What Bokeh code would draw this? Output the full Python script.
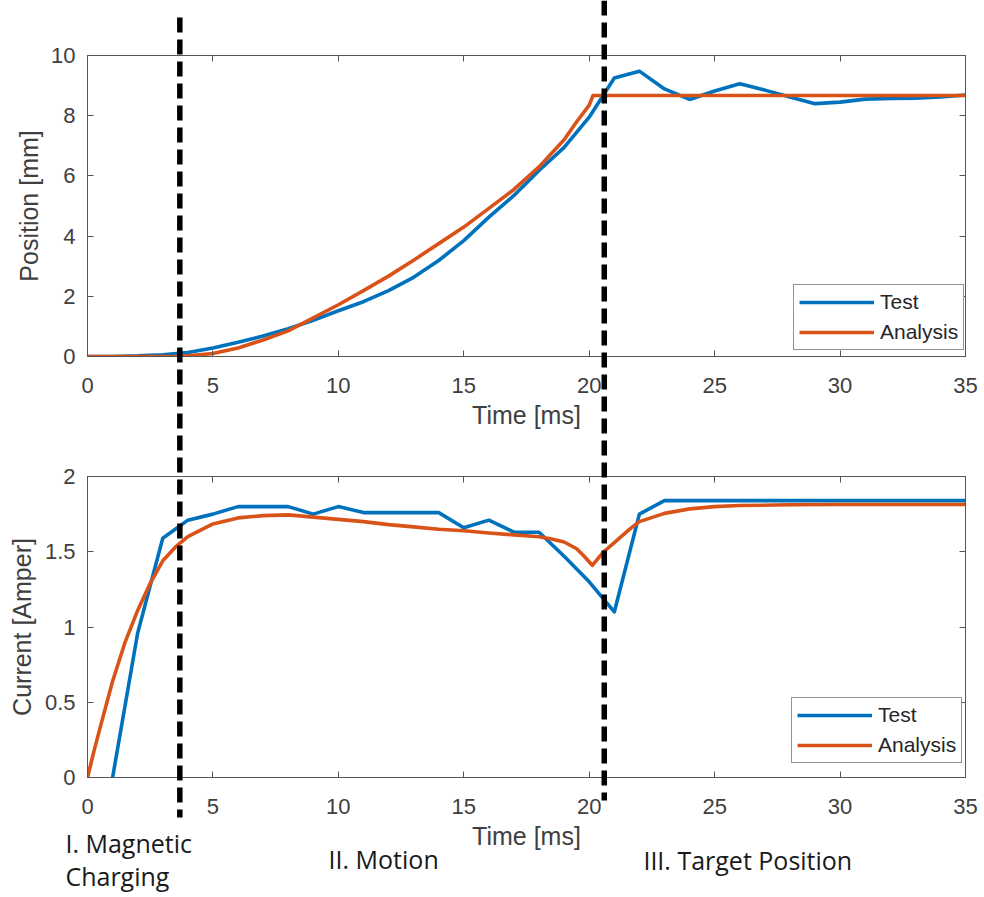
from bokeh.plotting import figure
from bokeh.models import Range1d, LinearAxis, FixedTicker, Legend, LegendItem
from bokeh.layouts import column
from bokeh.embed import file_html
from bokeh.resources import INLINE
from bokeh.core.properties import value

# ---------------- data ----------------
x_ticks = [0, 5, 10, 15, 20, 25, 30, 35]
x_tick_labels = ["0", "5", "10", "15", "20", "25", "30", "35"]
pos_ticks = [0, 2, 4, 6, 8, 10]
pos_tick_labels = ["0", "2", "4", "6", "8", "10"]
cur_ticks = [0, 0.5, 1, 1.5, 2]
cur_tick_labels = ["0", "0.5", "1", "1.5", "2"]

# Position [mm] - Test
pos_test_t = list(range(0, 36))
pos_test = [0.0, 0.0, 0.02, 0.06, 0.13, 0.28, 0.47, 0.68, 0.92, 1.2, 1.52, 1.82, 2.19,
            2.63, 3.19, 3.85, 4.63, 5.35, 6.18, 6.95, 7.95, 9.25, 9.48, 8.89, 8.54,
            8.82, 9.06, 8.85, 8.62, 8.40, 8.45, 8.55, 8.57, 8.58, 8.62, 8.69]
# Position [mm] - Analysis
pos_an_t = [0, 1, 2, 3, 3.5, 4, 5, 6, 7, 8, 9, 10, 11, 12, 13, 14, 15, 16, 17, 18,
            19, 19.5, 20, 20.15, 35]
pos_an = [0, 0, 0, 0, 0.005, 0.02, 0.1, 0.28, 0.55, 0.85, 1.28, 1.72, 2.19, 2.67, 3.2,
          3.75, 4.3, 4.92, 5.55, 6.3, 7.2, 7.8, 8.35, 8.67, 8.67]

# Current [Amper] - Test
cur_test_t = list(range(1, 36))
cur_test = [0.0, 0.96, 1.59, 1.71, 1.75, 1.80, 1.80, 1.80, 1.75, 1.80, 1.76, 1.76,
            1.76, 1.76, 1.66, 1.71, 1.63, 1.63, 1.47, 1.30, 1.10, 1.75, 1.84, 1.84,
            1.84, 1.84, 1.84, 1.84, 1.84, 1.84, 1.84, 1.84, 1.84, 1.84, 1.84]
# Current [Amper] - Analysis
cur_an_t = [0, 0.25, 0.5, 1, 1.5, 2, 2.5, 3, 3.5, 4, 5, 6, 7, 8, 9, 10, 11, 12, 13, 14,
            15, 16, 17, 18, 18.5, 19, 19.5, 19.8, 20.12, 20.58, 21, 21.65, 22, 23, 24,
            25, 26, 28, 30, 35]
cur_an = [0, 0.17, 0.33, 0.64, 0.9, 1.11, 1.29, 1.44, 1.53, 1.60, 1.685, 1.725, 1.74,
          1.745, 1.73, 1.715, 1.70, 1.68, 1.665, 1.65, 1.64, 1.625, 1.612, 1.60, 1.585,
          1.565, 1.52, 1.47, 1.41, 1.50, 1.56, 1.655, 1.70, 1.755, 1.785, 1.80, 1.807,
          1.812, 1.814, 1.814]

# phase boundaries [ms] and phase names
phase_bounds = [3.68, 20.6]
phase_names = ["I. Magnetic", "Charging", "II. Motion", "III. Target Position"]
phase_x = [-0.88, -0.88, 9.61, 22.16]
series_names = ["Test", "Analysis"]

# ---------------- layout / style ----------------
BLUE = "#0072BD"
ORANGE = "#D95319"
AXC = "#555555"
TXT = "#404040"
TICK_FONT = "Liberation Sans"
W, H = 984, 897
FRAME_L, FRAME_R = 87, 965
H1, H2 = 440, 457


def style_axes(p, yticks, ylabels, ylabel, ylab_standoff):
    p.grid.visible = False
    p.outline_line_color = AXC
    p.outline_line_width = 1
    xa = p.xaxis[0]
    ya = p.yaxis[0]
    xa.ticker = FixedTicker(ticks=x_ticks)
    xa.major_label_overrides = {t: l for t, l in zip(x_ticks, x_tick_labels)}
    ya.ticker = FixedTicker(ticks=yticks)
    ya.major_label_overrides = {t: l for t, l in zip(yticks, ylabels)}
    xa.axis_label = "Time [ms]"
    ya.axis_label = ylabel
    for ax in (xa, ya):
        ax.axis_line_color = AXC
        ax.major_tick_line_color = AXC
        ax.major_tick_in = 6
        ax.major_tick_out = 0
        ax.minor_tick_line_color = None
        ax.major_label_text_font = TICK_FONT
        ax.major_label_text_font_size = "22px"
        ax.major_label_text_color = TXT
        ax.axis_label_text_font = TICK_FONT
        ax.axis_label_text_font_size = "25px"
        ax.axis_label_text_color = TXT
        ax.axis_label_text_font_style = "normal"
    xa.major_label_standoff = 21
    xa.axis_label_standoff = 5
    ya.major_label_standoff = 12
    ya.axis_label_standoff = ylab_standoff
    # MATLAB-style box: tick-only axes on top and right (labels not drawn)
    for loc, ticks in (("above", x_ticks), ("right", yticks)):
        ax = LinearAxis(ticker=FixedTicker(ticks=ticks), major_tick_in=6, major_tick_out=0,
                        minor_tick_line_color=None, axis_line_color=AXC,
                        major_tick_line_color=AXC, major_label_text_font_size="1px",
                        major_label_text_color=None, major_label_standoff=0)
        p.add_layout(ax, loc)


def add_legend(p, r1, r2, loc):
    leg = Legend(items=[LegendItem(label=series_names[0], renderers=[r1]),
                        LegendItem(label=series_names[1], renderers=[r2])],
                 location=loc, margin=0, padding=5, spacing=6,
                 glyph_width=75, glyph_height=20, label_standoff=6,
                 label_text_font=TICK_FONT, label_text_font_size="21px",
                 label_text_color="#262626",
                 border_line_color="#262626", border_line_width=1,
                 background_fill_color="white", background_fill_alpha=1.0)
    p.add_layout(leg)


# ---------------- top plot ----------------
p1 = figure(width=W, height=H1, output_backend="svg", toolbar_location=None,
            x_range=Range1d(0, 35), y_range=Range1d(0, 10),
            min_border_left=FRAME_L, min_border_right=W - FRAME_R,
            min_border_top=55, min_border_bottom=H1 - 356)
p1.background_fill_color = "white"
p1.border_fill_color = "white"
style_axes(p1, pos_ticks, pos_tick_labels, "Position [mm]", 5)
ra = p1.line(pos_test_t, pos_test, line_color=BLUE, line_width=3.6, line_join="round")
rb = p1.line(pos_an_t, pos_an, line_color=ORANGE, line_width=3.6, line_join="round")
add_legend(p1, ra, rb, (706, 6))

# ---------------- bottom plot ----------------
p2 = figure(width=W, height=H2, output_backend="svg", toolbar_location=None,
            x_range=Range1d(0, 35), y_range=Range1d(0, 2),
            min_border_left=FRAME_L, min_border_right=W - FRAME_R,
            min_border_top=476 - H1, min_border_bottom=H1 + H2 - 777)
p2.background_fill_color = "white"
p2.border_fill_color = "white"
style_axes(p2, cur_ticks, cur_tick_labels, "Current [Amper]", 6)
rc = p2.line(cur_test_t, cur_test, line_color=BLUE, line_width=3.6, line_join="round")
rd = p2.line(cur_an_t, cur_an, line_color=ORANGE, line_width=3.6, line_join="round")
add_legend(p2, rc, rd, (704, 14))

# ---------------- overlay: phase boundaries and phase names ----------------
ms_per_px = 35.0 / (FRAME_R - FRAME_L)
p3 = figure(width=W, height=H, output_backend="svg", toolbar_location=None,
            x_range=Range1d(-FRAME_L * ms_per_px, 35 + (W - FRAME_R) * ms_per_px),
            y_range=Range1d(H, 0),
            x_axis_location=None, y_axis_location=None,
            min_border_left=0, min_border_right=0, min_border_top=0, min_border_bottom=0,
            margin=(-H, 0, 0, 0))
p3.frame_align = False
p3.grid.visible = False
p3.outline_line_color = None
p3.background_fill_alpha = 0
p3.border_fill_alpha = 0

line_extent = [(17, 817), (0, 800)]
for t, (y0, y1) in zip(phase_bounds, line_extent):
    p3.line([t, t], [y0, y1], line_color="black", line_width=5.5, line_dash="15 7",
            line_cap="butt")

phase_baseline = [842, 875, 858, 859]
p3.text(x=phase_x, y=phase_baseline, text=phase_names, text_font=value("Open Sans"),
        text_font_size="25px", text_color="#1a1a1a", text_baseline="alphabetic",
        text_align="left")

layout = column(p1, p2, p3, spacing=0)
open("out.html", "w").write(file_html(layout, INLINE))
